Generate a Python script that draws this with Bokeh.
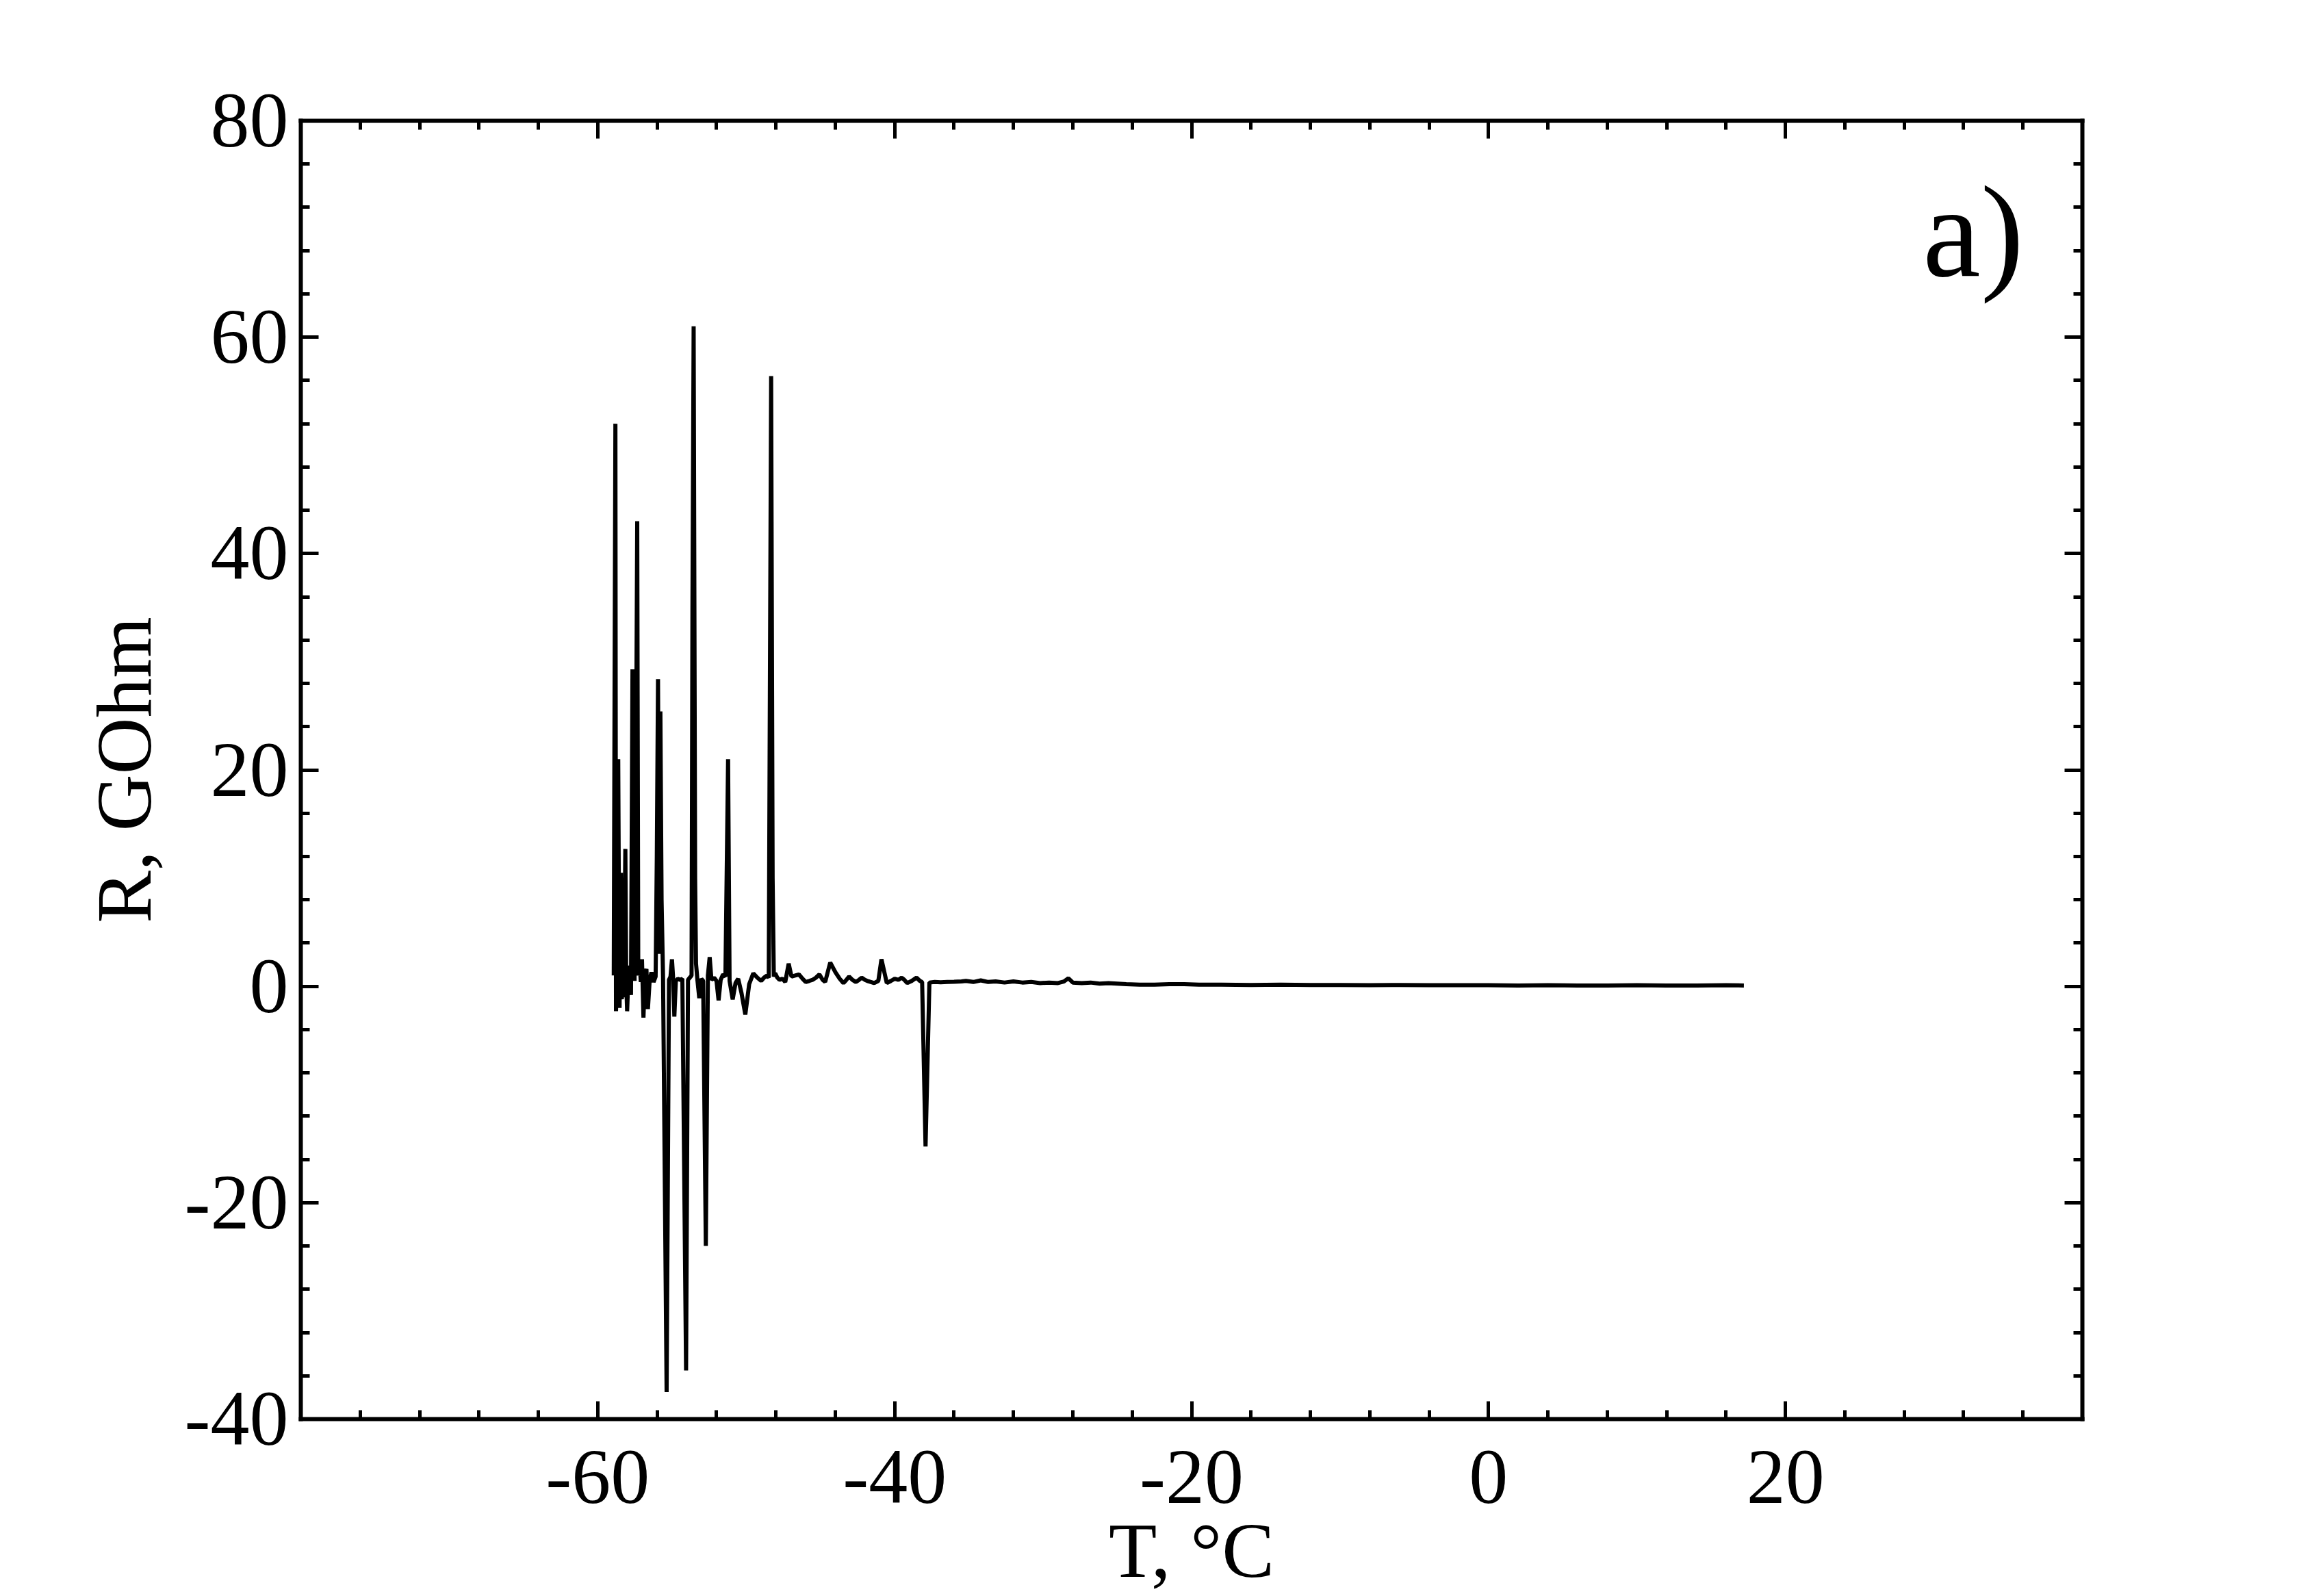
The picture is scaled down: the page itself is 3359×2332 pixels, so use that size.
from bokeh.plotting import figure
from bokeh.models import Range1d, LinearAxis, FixedTicker, Label
from bokeh.embed import file_html
from bokeh.resources import INLINE

# Temperature, deg C
T = [
    -58.92, -58.86, -58.81, -58.77, -58.70, -58.62, -58.58, -58.53, -58.44, -58.38,
    -58.32, -58.24, -58.14, -58.08, -58.02, -57.93, -57.84, -57.76, -57.66, -57.60,
    -57.52, -57.44, -57.34, -57.27, -57.18, -57.10, -57.02, -56.92, -56.82, -56.72,
    -56.62, -56.50, -56.38, -56.24, -56.10, -56.02, -55.94, -55.86, -55.78, -55.70,
    -55.60, -55.36, -55.20, -55.10, -55.00, -54.92, -54.84, -54.74, -54.60, -54.45,
    -54.30, -54.05, -53.92, -53.80, -53.68, -53.62, -53.54, -53.44, -53.38, -53.28,
    -53.16, -53.02, -52.90, -52.72, -52.58, -52.46, -52.34, -52.16, -52.00, -51.86,
    -51.72, -51.56, -51.40, -51.30, -51.22, -51.12, -50.91, -50.72, -50.54, -50.32,
    -50.06, -49.80, -49.52, -49.25, -48.99, -48.80, -48.60, -48.48, -48.42, -48.32,
    -48.22, -48.14, -48.05, -47.90, -47.76, -47.55, -47.37, -47.14, -46.95, -46.70,
    -46.45, -46.20, -45.99, -45.75, -45.53, -45.30, -45.07, -44.85, -44.68, -44.34,
    -43.99, -43.70, -43.45, -43.25, -43.07, -42.85, -42.61, -42.40, -42.22, -42.00,
    -41.84, -41.60, -41.38, -41.10, -40.89, -40.53, -40.25, -40.00, -39.75, -39.53,
    -39.35, -39.15, -38.85, -38.53, -38.30, -38.15, -37.92, -37.66, -37.30, -36.90,
    -36.46, -36.00, -35.50, -35.20, -34.70, -34.20, -33.70, -33.20, -32.60, -32.00,
    -31.40, -30.80, -30.20, -29.60, -29.00, -28.60, -28.30, -28.00, -27.40, -26.80,
    -26.20, -25.60, -25.00, -24.40, -23.50, -22.50, -21.50, -20.50, -19.50, -18.00,
    -16.00, -14.00, -12.00, -10.00, -8.00, -6.00, -4.00, -2.00, 0.00, 2.00,
    4.00, 6.00, 8.00, 10.00, 12.00, 14.00, 16.00, 17.20,
]

# Resistance, GOhm
R = [
    1.0, 30.0, 52.0, -2.3, 0.8, 21.0, 9.5, -2.0, 10.5, -1.2,
    0.5, -1.0, 12.7, 0.3, -2.3, 1.2, 1.9, -0.8, 29.3, 12.0,
    0.5, 15.0, 43.0, 1.0, 2.3, 0.4, 2.5, -2.9, 1.1, 1.6,
    -2.1, 0.6, 1.3, 0.4, 0.9, 12.0, 28.4, 3.0, 25.4, 8.0,
    0.8, -37.5, 0.6, 0.9, 2.5, 0.7, -2.8, 0.5, 0.7, 0.6,
    0.7, -35.5, 0.6, 0.8, 1.0, 35.0, 61.0, 10.0, 2.1, 0.5,
    -1.1, 0.7, 0.5, -24.0, 1.0, 2.7, 0.6, 0.8, 0.5, -1.3,
    0.6, 1.1, 0.9, 12.0, 21.0, 0.5, -1.2, 0.3, 0.7, -0.6,
    -2.6, 0.2, 1.2, 0.8, 0.5, 0.8, 1.0, 0.8, 22.0, 56.4,
    10.0, 0.9, 1.2, 0.8, 0.6, 0.7, 0.4, 2.1, 0.9, 1.0,
    1.1, 0.7, 0.4, 0.5, 0.6, 0.8, 1.1, 0.6, 0.4, 2.2,
    1.3, 0.7, 0.3, 0.6, 0.9, 0.6, 0.4, 0.6, 0.8, 0.6,
    0.5, 0.4, 0.3, 0.5, 2.5, 0.3, 0.5, 0.7, 0.6, 0.8,
    0.6, 0.3, 0.5, 0.8, 0.5, 0.4, -14.8, 0.35, 0.4, 0.38,
    0.4, 0.42, 0.45, 0.5, 0.4, 0.55, 0.4, 0.45, 0.35, 0.45,
    0.35, 0.4, 0.3, 0.35, 0.3, 0.45, 0.75, 0.35, 0.3, 0.35,
    0.25, 0.3, 0.25, 0.2, 0.15, 0.15, 0.2, 0.2, 0.15, 0.15,
    0.12, 0.15, 0.12, 0.12, 0.1, 0.12, 0.1, 0.1, 0.1, 0.08,
    0.1, 0.08, 0.08, 0.1, 0.08, 0.08, 0.1, 0.08,
]
assert len(T) == len(R)

x_major = [-60, -40, -20, 0, 20]
x_minor = [-76, -72, -68, -64, -56, -52, -48, -44, -36, -32, -28, -24,
           -16, -12, -8, -4, 4, 8, 12, 16, 24, 28, 32, 36]
y_major = [-40, -20, 0, 20, 40, 60, 80]
y_minor = [-36, -32, -28, -24, -16, -12, -8, -4, 4, 8, 12, 16, 24, 28, 32, 36,
           44, 48, 52, 56, 64, 68, 72, 76]
x_labels = ["-60", "-40", "-20", "0", "20"]
y_labels = ["-40", "-20", "0", "20", "40", "60", "80"]

x_title = "T, °C"
y_title = "R, GOhm"
panel_tag = "a)"

FONT = "Liberation Serif"

p = figure(frame_width=2603, frame_height=1897,
           min_border_left=439, min_border_right=300,
           min_border_top=176, min_border_bottom=200,
           x_range=Range1d(-80, 40), y_range=Range1d(-40, 80),
           output_backend="svg", toolbar_location=None,
           x_axis_type=None, y_axis_type=None)
p.xgrid.visible = False
p.ygrid.visible = False
p.outline_line_color = None
p.background_fill_color = "white"
p.border_fill_color = "white"


def style_axis(ax, show_labels):
    ax.axis_line_width = 6
    ax.axis_line_color = "black"
    ax.axis_line_cap = "square"
    ax.major_tick_line_width = 5
    ax.minor_tick_line_width = 5
    ax.major_tick_line_color = "black"
    ax.minor_tick_line_color = "black"
    ax.major_tick_in = 26
    ax.major_tick_out = 0
    ax.minor_tick_in = 13
    ax.minor_tick_out = 0
    ax.major_label_text_font = FONT
    if show_labels:
        ax.major_label_text_color = "black"
        ax.major_label_text_font_size = "114px"
    else:
        ax.major_label_text_color = None
        ax.major_label_text_font_size = "10px"
    ax.axis_label_text_font = FONT
    ax.axis_label_text_font_style = "normal"
    ax.axis_label_text_font_size = "115px"
    ax.axis_label_text_color = "black"


xt = FixedTicker(ticks=x_major, minor_ticks=x_minor)
yt = FixedTicker(ticks=y_major, minor_ticks=y_minor)

xb = LinearAxis(ticker=xt, axis_label=x_title)
style_axis(xb, True)
xb.major_label_overrides = dict(zip(x_major, x_labels))
xb.major_label_standoff = 47
xb.axis_label_standoff = 3
p.add_layout(xb, "below")

yl = LinearAxis(ticker=yt, axis_label=y_title)
style_axis(yl, True)
yl.major_label_overrides = dict(zip(y_major, y_labels))
yl.major_label_standoff = 18
yl.axis_label_standoff = 22
p.add_layout(yl, "left")

xa = LinearAxis(ticker=xt)
style_axis(xa, False)
p.add_layout(xa, "above")

yr = LinearAxis(ticker=yt)
style_axis(yr, False)
p.add_layout(yr, "right")

p.line(T, R, line_color="black", line_width=6, line_join="bevel")

tag = Label(x=29.25, y=69.7, text=panel_tag, text_font=FONT,
            text_font_size="190px", text_color="black",
            text_align="left", text_baseline="alphabetic")
p.add_layout(tag)

open("out.html", "w").write(file_html(p, INLINE))
